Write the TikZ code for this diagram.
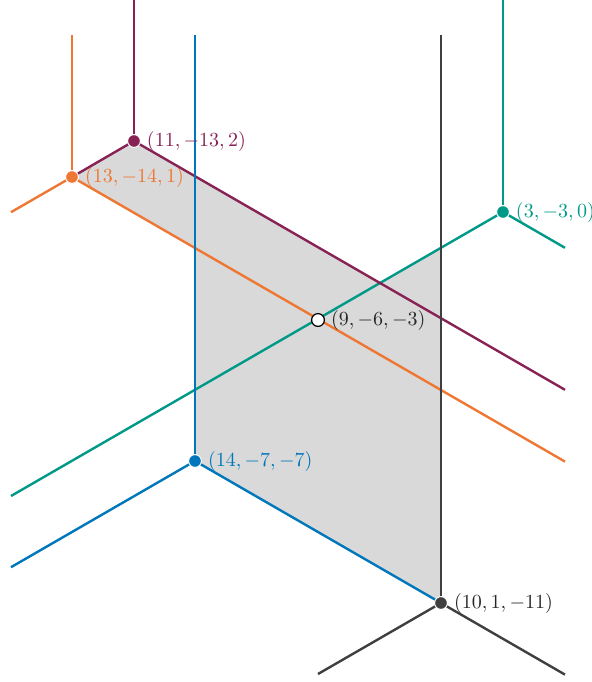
\documentclass[tikz,border=0pt]{standalone}
\usepackage{amsmath}
\definecolor{cpurp}{HTML}{882255}
\definecolor{corange}{HTML}{EE7733}
\definecolor{cblue}{HTML}{0077BB}
\definecolor{cteal}{HTML}{009988}
\definecolor{cgrey}{HTML}{3F3F3F}
\definecolor{cshade}{HTML}{D9D9D9}
\tikzset{
  ln/.style={line width=1.2pt},
  dot/.style={circle, draw=white, line width=0.5pt, minimum size=6.4pt, inner sep=0pt},
  wdot/.style={circle, draw=black, fill=white, line width=0.6pt, minimum size=6.4pt, inner sep=0pt},
  lab/.style={anchor=west, inner sep=0pt, xshift=6.3pt}
}
\begin{document}
\begin{tikzpicture}[x=0.5pt,y=-0.5pt]
\useasboundingbox (0,0) rectangle (592,682);
% named positions
\coordinate (P1) at (134,141);
\coordinate (P2) at (72,177);
\coordinate (P3) at (503,212);
\coordinate (P4) at (318,320);
\coordinate (P5) at (195,461);
\coordinate (P6) at (441,603);
% ray ends
\coordinate (p1u) at (134,0);
\coordinate (p1r) at (565,389.8);
\coordinate (p2u) at (72,35);
\coordinate (p2l) at (11,212.2);
\coordinate (p2r) at (565,461.6);
\coordinate (p3u) at (503,0);
\coordinate (p3l) at (11,496);
\coordinate (p3r) at (565,247.8);
\coordinate (p5u) at (195,35);
\coordinate (p5l) at (11,567.2);
\coordinate (p6u) at (441,35);
\coordinate (p6l) at (318,674);
\coordinate (p6r) at (565,674.6);
% shaded region corners
\coordinate (s1) at (379.8,282.9);
\coordinate (s2) at (441,247.8);
\coordinate (s3) at (195,248);
\fill[cshade] (P2) -- (P1) -- (s1) -- (s2) -- (P6) -- (P5) -- (s3) -- cycle;
% lines
\draw[ln, cteal] (p3u) -- (P3);
\draw[ln, cteal] (p3l) -- (P3) -- (p3r);
\draw[ln, corange] (p2u) -- (P2);
\draw[ln, corange] (p2l) -- (P2) -- (p2r);
\draw[ln, cpurp] (p1u) -- (P1);
\draw[ln, cpurp] (P2) -- (P1) -- (p1r);
\draw[ln, cblue] (p5u) -- (P5);
\draw[ln, cblue] (p5l) -- (P5) -- (P6);
\draw[ln, cgrey] (p6u) -- (P6);
\draw[ln, cgrey] (p6l) -- (P6) -- (p6r);
% dots
\node[dot, fill=cpurp] (d1) at (P1) {};
\node[dot, fill=corange] (d2) at (P2) {};
\node[dot, fill=cteal] (d3) at (P3) {};
\node[wdot] (d4) at (P4) {};
\node[dot, fill=cblue] (d5) at (P5) {};
\node[dot, fill=cgrey] (d6) at (P6) {};
% labels
\node[lab, text=cpurp] (l1) at (P1) {$(11,-13,2)$};
\node[lab, text=corange] (l2) at (P2) {$(13,-14,1)$};
\node[lab, text=cteal] (l3) at (P3) {$(3,-3,0)$};
\node[lab, text=black!85] (l4) at (P4) {$(9,-6,-3)$};
\node[lab, text=cblue] (l5) at (P5) {$(14,-7,-7)$};
\node[lab, text=black!85] (l6) at (P6) {$(10,1,-11)$};
\end{tikzpicture}
\end{document}
